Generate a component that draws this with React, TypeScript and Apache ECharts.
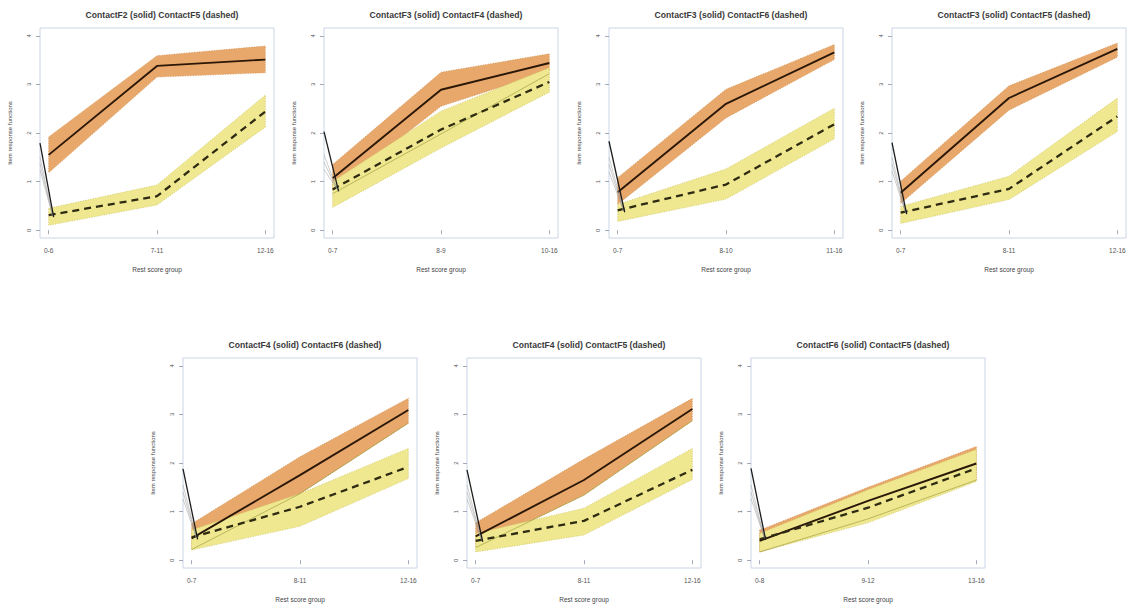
import { useEffect, useRef } from "react";
import * as echarts from "echarts";

// Pairwise item response functions: solid item vs dashed item per panel
const titles = [
  "ContactF2 (solid) ContactF5 (dashed)",
  "ContactF3 (solid) ContactF4 (dashed)",
  "ContactF3 (solid) ContactF6 (dashed)",
  "ContactF3 (solid) ContactF5 (dashed)",
  "ContactF4 (solid) ContactF6 (dashed)",
  "ContactF4 (solid) ContactF5 (dashed)",
  "ContactF6 (solid) ContactF5 (dashed)",
];

const groupLabels = [
  ["0-6", "7-11", "12-16"],
  ["0-7", "8-9", "10-16"],
  ["0-7", "8-10", "11-16"],
  ["0-7", "8-11", "12-16"],
  ["0-7", "8-11", "12-16"],
  ["0-7", "8-11", "12-16"],
  ["0-8", "9-12", "13-16"],
];

const groupPos = [1, 2, 3];
const yTicks = [0, 1, 2, 3, 4];

// Solid item: estimate and confidence band
const solidMid = [
  [1.55, 3.38, 3.51],
  [1.07, 2.89, 3.44],
  [0.78, 2.6, 3.66],
  [0.77, 2.72, 3.73],
  [0.45, 1.75, 3.09],
  [0.49, 1.65, 3.11],
  [0.4, 1.22, 1.99],
];
const solidLo = [
  [1.18, 3.15, 3.24],
  [0.8, 2.55, 3.27],
  [0.53, 2.31, 3.51],
  [0.55, 2.47, 3.56],
  [0.22, 1.37, 2.82],
  [0.26, 1.34, 2.87],
  [0.17, 0.85, 1.65],
];
const solidHi = [
  [1.92, 3.59, 3.79],
  [1.35, 3.25, 3.63],
  [1.08, 2.9, 3.82],
  [1.01, 2.97, 3.85],
  [0.75, 2.13, 3.33],
  [0.77, 2.08, 3.33],
  [0.62, 1.5, 2.34],
];

// Dashed item: estimate and confidence band
const dashedMid = [
  [0.31, 0.7, 2.44],
  [0.84, 2.07, 3.05],
  [0.41, 0.94, 2.18],
  [0.36, 0.85, 2.34],
  [0.47, 1.1, 1.92],
  [0.4, 0.81, 1.86],
  [0.43, 1.08, 1.89],
];
const dashedLo = [
  [0.1, 0.52, 2.12],
  [0.47, 1.69, 2.84],
  [0.18, 0.64, 1.88],
  [0.14, 0.63, 2.03],
  [0.21, 0.7, 1.68],
  [0.17, 0.52, 1.66],
  [0.17, 0.77, 1.62],
];
const dashedHi = [
  [0.45, 0.93, 2.78],
  [1.0, 2.45, 3.34],
  [0.53, 1.26, 2.51],
  [0.49, 1.11, 2.72],
  [0.62, 1.37, 2.3],
  [0.55, 1.07, 2.3],
  [0.55, 1.45, 2.28],
];

// Thin olive trace visible through the pale band
const oliveTrace: (number[] | null)[] = [
  null,
  [0.75, 1.98, 3.22],
  null,
  null,
  [0.22, 1.37, 2.82],
  [0.26, 1.34, 2.87],
  [0.17, 0.85, 1.65],
];

// Stray leader strokes entering from the left frame
const leaderStartY = [1.79, 2.03, 1.83, 1.8, 1.88, 1.86, 1.89];
const leaderEndX = [1.046, 1.055, 1.065, 1.055, 1.055, 1.065, 1.055];
const leaderEndY = [0.27, 0.8, 0.37, 0.33, 0.43, 0.38, 0.42];
const fanStartY = [
  [1.51, 1.37, 1.24],
  [1.55, 1.4, 1.25],
  [1.5, 1.35, 1.2],
  [1.5, 1.36, 1.22],
  [1.55, 1.4, 1.26],
  [1.55, 1.4, 1.26],
  [1.55, 1.4, 1.27],
];

const X_MIN = 0.92;
const X_MAX = 3.08;
const Y_MIN = -0.16;
const Y_MAX = 4.16;

const gridLeft = [40, 324, 609, 892, 183, 467, 751];
const gridTop = [28, 28, 28, 28, 358, 358, 358];
const GRID_W = 234;
const GRID_H = 210;

const FONT = "Liberation Sans, Arial, sans-serif";
const ORANGE = "#e8a86b";
const ORANGE_EDGE = "#cf9152";
const YELLOW = "#efe890";
const YELLOW_EDGE = "#cdc45e";

function bandSeries(i: number, lo: number[], hi: number[], fill: string, edge: string) {
  return {
    type: "custom",
    xAxisIndex: i,
    yAxisIndex: i,
    silent: true,
    data: groupPos.map((x, k) => [x, lo[k], hi[k]]),
    encode: { x: 0, y: [1, 2] },
    renderItem: (params: any, api: any) => {
      if (params.dataIndex !== 0) return null;
      const top = groupPos.map((x, k) => api.coord([x, hi[k]]));
      const bottom = groupPos.map((x, k) => api.coord([x, lo[k]])).reverse();
      return {
        type: "polygon",
        shape: { points: top.concat(bottom) },
        style: { fill, stroke: edge, lineWidth: 0.8, lineDash: [1, 1.5] },
      };
    },
  };
}

function lineSeries(i: number, data: number[][], style: any) {
  return {
    type: "line",
    xAxisIndex: i,
    yAxisIndex: i,
    silent: true,
    symbol: "none",
    data,
    lineStyle: style,
  };
}

function buildOption() {
  const grid: any[] = [];
  const xAxis: any[] = [];
  const yAxis: any[] = [];
  const title: any[] = [];
  const series: any[] = [];

  titles.forEach((t, i) => {
    grid.push({
      left: gridLeft[i],
      top: gridTop[i],
      width: GRID_W,
      height: GRID_H,
      show: true,
      borderColor: "#bccae0",
      borderWidth: 0.8,
      backgroundColor: "transparent",
    });
    title.push({
      text: t,
      left: gridLeft[i] + GRID_W / 2,
      top: gridTop[i] - 23,
      textAlign: "center",
      textStyle: { fontFamily: FONT, fontSize: 8.6, fontWeight: "bold", color: "#3a3a3a" },
    });
    const labels = groupLabels[i];
    xAxis.push({
      type: "value",
      gridIndex: i,
      min: X_MIN,
      max: X_MAX,
      name: "Rest score group",
      nameLocation: "middle",
      nameGap: 28,
      nameTextStyle: { fontFamily: FONT, fontSize: 6.5, color: "#444" },
      axisLine: { show: false },
      splitLine: { show: false },
      axisTick: { show: true, length: 4, customValues: groupPos, lineStyle: { color: "#8a94a8", width: 0.8 } },
      axisLabel: {
        customValues: groupPos,
        margin: 9,
        fontFamily: FONT,
        fontSize: 6.5,
        color: "#555",
        formatter: (v: number) => labels[Math.round(v) - 1] ?? "",
      },
    });
    yAxis.push({
      type: "value",
      gridIndex: i,
      min: Y_MIN,
      max: Y_MAX,
      name: "Item response functions",
      nameLocation: "middle",
      nameGap: 27,
      nameRotate: 90,
      nameTextStyle: { fontFamily: FONT, fontSize: 6, color: "#444" },
      axisLine: { show: false },
      splitLine: { show: false },
      axisTick: { show: true, length: 4, customValues: yTicks, lineStyle: { color: "#8a94a8", width: 0.8 } },
      axisLabel: {
        customValues: yTicks,
        rotate: 90,
        margin: 8,
        fontFamily: FONT,
        fontSize: 6,
        color: "#555",
      },
    });

    series.push(bandSeries(i, solidLo[i], solidHi[i], ORANGE, ORANGE_EDGE));
    series.push(bandSeries(i, dashedLo[i], dashedHi[i], YELLOW, YELLOW_EDGE));
    const olive = oliveTrace[i];
    if (olive) {
      series.push(
        lineSeries(i, groupPos.map((x, k) => [x, olive[k]]), { color: "#a3a043", width: 0.7 })
      );
    }
    series.push(
      lineSeries(i, groupPos.map((x, k) => [x, solidMid[i][k]]), { color: "#2a1707", width: 1.9 })
    );
    series.push(
      lineSeries(i, groupPos.map((x, k) => [x, dashedMid[i][k]]), {
        color: "#2e2b12",
        width: 2.3,
        type: [7, 5],
      })
    );
    fanStartY[i].forEach((y0) => {
      series.push(
        lineSeries(
          i,
          [
            [X_MIN, y0],
            [leaderEndX[i] - 0.01, leaderEndY[i] + 0.03],
          ],
          { color: "#9a9a9a", width: 0.5 }
        )
      );
    });
    series.push(
      lineSeries(
        i,
        [
          [X_MIN, leaderStartY[i]],
          [leaderEndX[i], leaderEndY[i]],
        ],
        { color: "#1c1c1c", width: 1.3 }
      )
    );
  });

  return {
    animation: false,
    backgroundColor: "#ffffff",
    title,
    grid,
    xAxis,
    yAxis,
    series,
  };
}

export default function App() {
  const ref = useRef<HTMLDivElement>(null);

  useEffect(() => {
    if (!ref.current) return;
    const chart = echarts.init(ref.current, null, { renderer: "svg" });
    chart.setOption(buildOption() as any);
    return () => chart.dispose();
  }, []);

  return (
    <div
      ref={ref}
      style={{ position: "absolute", left: 0, top: 0, width: 1137, height: 607, background: "#fff" }}
    />
  );
}
